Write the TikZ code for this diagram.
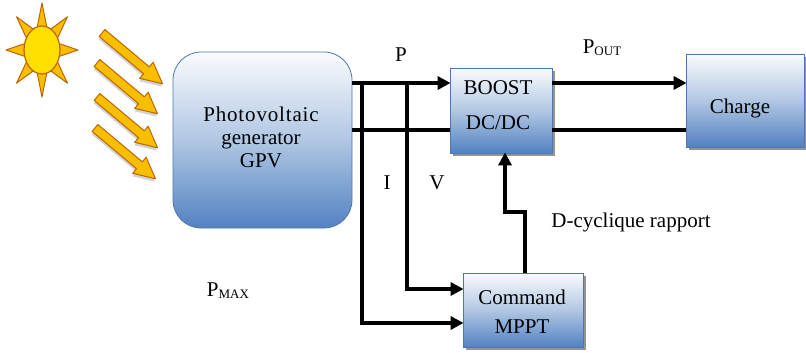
\documentclass[tikz,border=0pt]{standalone}
\usepackage{fontspec}
\setmainfont{Liberation Serif}
\usetikzlibrary{arrows.meta,shadows,calc,shapes.geometric}
\definecolor{boxblue}{RGB}{82,130,194}
\definecolor{boxedge}{RGB}{79,118,175}
\definecolor{sunfill}{RGB}{255,224,0}
\definecolor{sunray}{RGB}{250,190,0}
\definecolor{sunedge}{RGB}{190,100,0}
\begin{document}
\begin{tikzpicture}[x=1pt,y=-1pt,
  txt/.style={font=\fontsize{21}{24}\selectfont, inner sep=0pt},
  blk/.style={draw=boxedge, line width=0.8pt, top color=white!97!boxblue, bottom color=boxblue, middle color=white!55!boxblue, inner sep=0pt},
  shd/.style={drop shadow={shadow xshift=2.5pt, shadow yshift=-3pt, fill=black!70, opacity=0.6}},
  bus/.style={line width=4.5pt},
  arr/.style={bus, -{Triangle[length=13pt,width=13pt]}, shorten >=-1pt},
  ray/.style={fill=sunray, draw=sunedge, line width=1pt, line join=round}]
\useasboundingbox (0,0) rectangle (806,353);

% sun
\foreach \a in {0,45,...,315}{
  \filldraw[ray] ($(42,50)+({36*cos(\a)},{47*sin(\a)})$) -- ($(42,50)+({17*cos(\a+17)},{23*sin(\a+17)})$) -- ($(42,50)+({17*cos(\a-17)},{23*sin(\a-17)})$) -- cycle;
}
\node[draw=sunedge, line width=1.2pt, fill=sunfill, ellipse, minimum width=36pt, minimum height=48pt, inner sep=0pt] (sun) at (42,50) {};

% light arrows
\foreach \sx/\sy in {102/33, 97/63, 97/97, 95/128}{
  \begin{scope}[shift={(\sx,\sy)}, rotate=-40]
    \fill[black!35, opacity=0.5, shift={(1.5,2.5)}] (0,-4.5) -- (58,-4.5) -- (58,-10.5) -- (79,0) -- (58,10.5) -- (58,4.5) -- (0,4.5) -- cycle;
    \filldraw[fill=sunray, draw=sunedge, line width=1pt, line join=round] (0,-4.5) -- (58,-4.5) -- (58,-10.5) -- (79,0) -- (58,10.5) -- (58,4.5) -- (0,4.5) -- cycle;
  \end{scope}
}

% blocks
\node[blk, rounded corners=28pt, minimum width=179pt, minimum height=176pt] (pv) at (262.5,140) {};
\node[txt, align=center, font=\fontsize{21}{23}\selectfont] (pvT) at (261,137.5) {{\addfontfeature{LetterSpace=4}Photovoltaic}\\generator\\GPV};

\node[blk, shd, minimum width=102pt, minimum height=85pt] (boost) at (501,110.5) {};
\node[txt] (boostA) at (498,88) {BOOST};
\node[txt] (boostB) at (498,123) {DC/DC};

\node[blk, shd, minimum width=120pt, minimum height=74pt] (mppt) at (523,310) {};
\node[txt] (mpptA) at (522,297) {Command};
\node[txt] (mpptB) at (522,327) {MPPT};

\node[blk, shd, minimum width=118pt, minimum height=93pt] (charge) at (745,100.5) {};
\node[txt] (chargeT) at (740,108) {Charge};

% levels
\coordinate (y1) at (0,83);
\coordinate (y2) at (0,130);
\coordinate (xi) at (362,0);
\coordinate (xv) at (407,0);
\coordinate (yi) at (0,323);
\coordinate (yv) at (0,289);
\coordinate (xf) at (525,0);
\coordinate (xb) at (505,0);
\coordinate (yf) at (0,212);

% buses
\draw[arr] (pv.east |- y1) -- (boost.west |- y1);
\draw[bus] (pv.east |- y2) -- (boost.west |- y2);
\draw[arr] (boost.east |- y1) -- (charge.west |- y1);
\draw[bus] (boost.east |- y2) -- (charge.west |- y2);

\draw[arr] ($(xi |- y1)+(0,-2.25)$) -- (xi |- yi) -- (mppt.west |- yi);
\draw[arr] ($(xv |- y1)+(0,-2.25)$) -- (xv |- yv) -- (mppt.west |- yv);

\draw[arr] (xf |- mppt.north) -- (xf |- yf) -- (xb |- yf) -- (boost.south -| xb);

% labels
\node[txt] (lP) at (401,55) {P};
\node[txt] (lPout) at (602,48) {P\raisebox{-2pt}{\fontsize{13}{13}\selectfont OUT}};
\node[txt] (lI) at (387,183) {I};
\node[txt] (lV) at (437,183) {V};
\node[txt] (lD) at (631,222) {D-cyclique rapport};
\node[txt] (lPmax) at (228,291) {P\raisebox{-2pt}{\fontsize{13}{13}\selectfont MAX}};
\end{tikzpicture}
\end{document}
